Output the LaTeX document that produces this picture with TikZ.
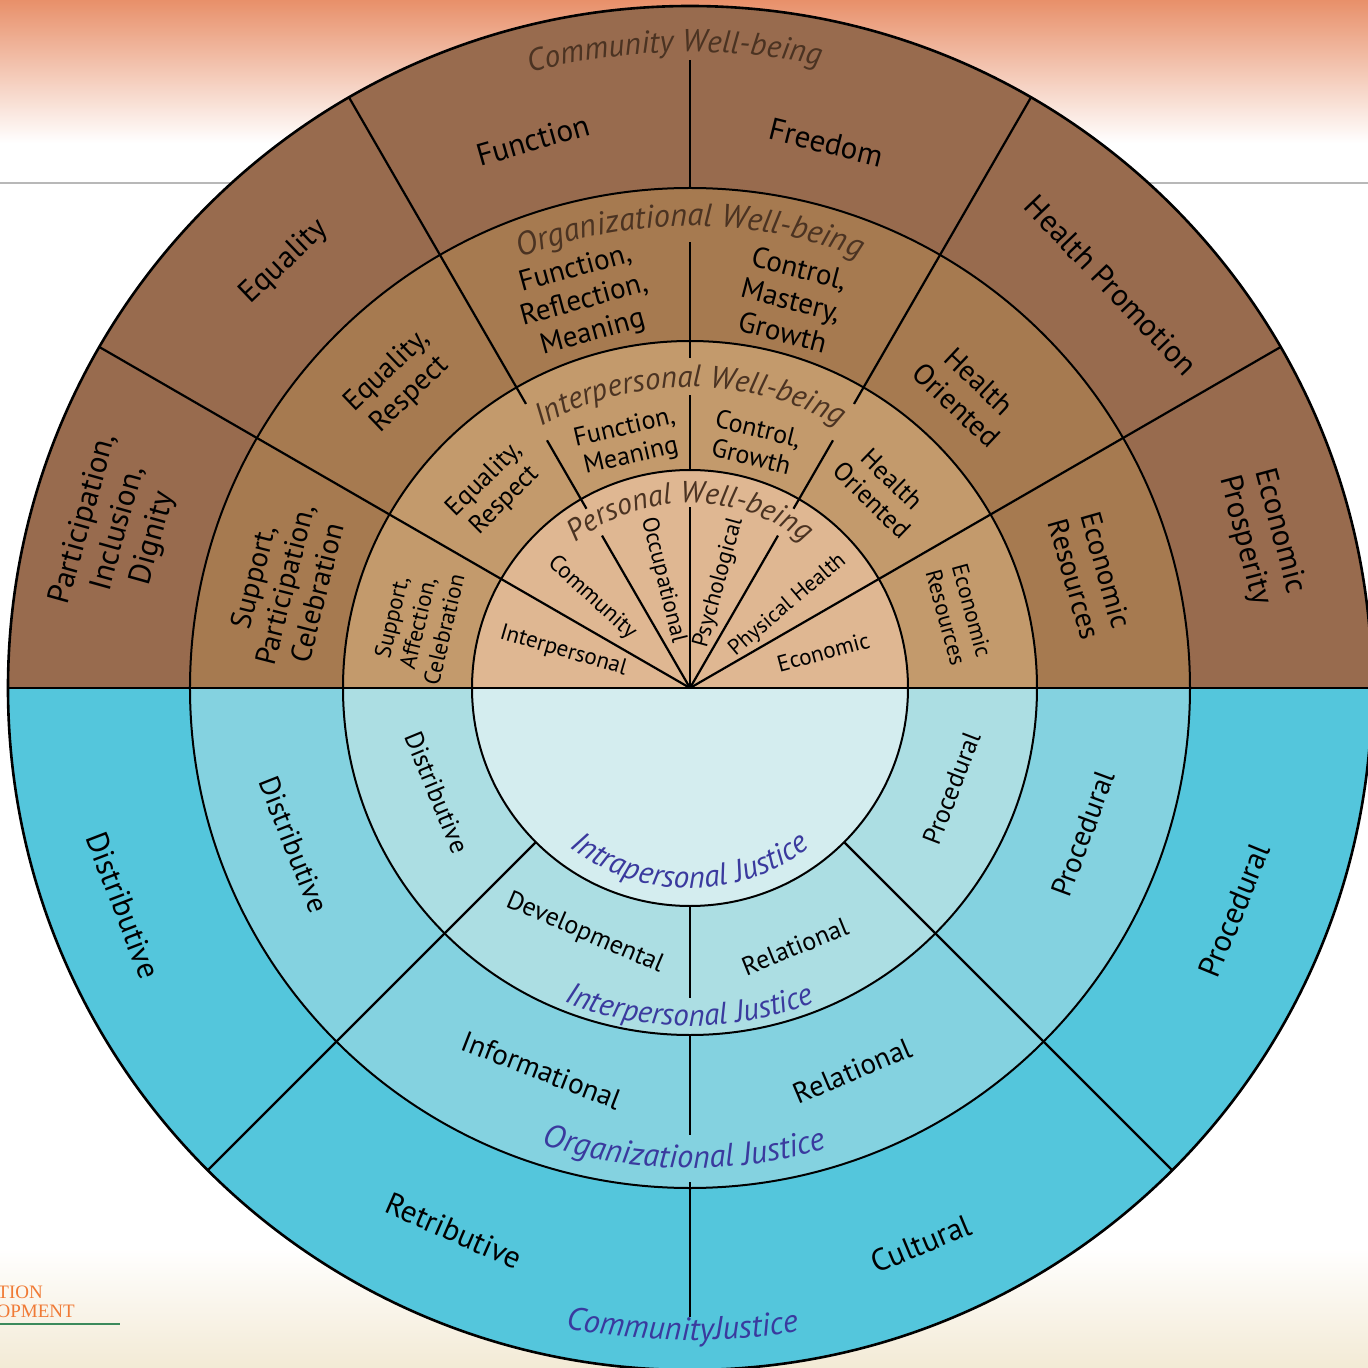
\documentclass[tikz,border=0pt]{standalone}
\usepackage{fontspec}
\setmainfont{PT Sans}
\newfontfamily\logofont{Liberation Serif}
\usetikzlibrary{decorations.text}
\definecolor{bgorange}{HTML}{E8906A}
\definecolor{cream}{HTML}{F3EAD5}
\definecolor{brA}{HTML}{986B4E}
\definecolor{brB}{HTML}{A67A50}
\definecolor{brC}{HTML}{C39A6C}
\definecolor{brD}{HTML}{DFB792}
\definecolor{blA}{HTML}{54C6DC}
\definecolor{blB}{HTML}{84D2E0}
\definecolor{blC}{HTML}{ACDEE3}
\definecolor{blD}{HTML}{D4EDEF}
\definecolor{ttlbrown}{HTML}{4B3322}
\definecolor{ttlblue}{HTML}{3A3A9E}
\definecolor{logoorange}{HTML}{F07A35}
\definecolor{logogreen}{HTML}{3C8A5C}
\def\ttlsz{30}
\newcommand\mkTtlBrown{\fontsize{\ttlsz}{\ttlsz}\selectfont\itshape\color{ttlbrown}}
\newcommand\mkTtlBlue{\fontsize{\ttlsz}{\ttlsz}\selectfont\itshape\color{ttlblue}}
\begin{document}
\begin{tikzpicture}[x=1pt,y=1pt,
  lbl/.style={inner sep=0pt, align=center, text=black},
  fO/.style={font=\fontsize{31}{36}\selectfont},
  fRc/.style={font=\fontsize{29}{33}\selectfont},
  fRb/.style={font=\fontsize{26}{29}\selectfont},
  fRbs/.style={font=\fontsize{23}{27}\selectfont},
  fIn/.style={font=\fontsize{23}{26}\selectfont},
  ringline/.style={line width=2pt},
  spoke/.style={line width=2.2pt}]
\useasboundingbox (-690,-680) rectangle (678,688);
% background
\shade[top color=bgorange, bottom color=white] (-690,688) rectangle (678,545);
\fill[white] (-690,545) rectangle (678,-560);
\shade[top color=white, bottom color=cream] (-690,-560) rectangle (678,-680);
\draw[black!28, line width=1.2pt] (-690,505) -- (678,505);
\node[anchor=base east, text=logoorange, font=\logofont\fontsize{19}{20}\selectfont, inner sep=0pt] (logoA) at (-647,-610) {TION};
\node[anchor=base east, text=logoorange, font=\logofont\fontsize{19}{20}\selectfont, inner sep=0pt] (logoB) at (-615,-629) {OPMENT};
\draw[logogreen, line width=1.2pt] (-690,-636) -- (-570,-636);
% fills
\fill[brA] (682,0) arc[start angle=0,end angle=180,radius=682] -- cycle;
\fill[blA] (682,0) arc[start angle=0,end angle=-180,radius=682] -- cycle;
\fill[brB] (500,0) arc[start angle=0,end angle=180,radius=500] -- cycle;
\fill[blB] (500,0) arc[start angle=0,end angle=-180,radius=500] -- cycle;
\fill[brC] (347,0) arc[start angle=0,end angle=180,radius=347] -- cycle;
\fill[blC] (347,0) arc[start angle=0,end angle=-180,radius=347] -- cycle;
\fill[brD] (218,0) arc[start angle=0,end angle=180,radius=218] -- cycle;
\fill[blD] (218,0) arc[start angle=0,end angle=-180,radius=218] -- cycle;
% spokes
\foreach \a in {30,150} \draw[spoke] (0,0) -- (\a:682);
\foreach \a in {60,120} {
  \draw[spoke] (0,0) -- (\a:176);
  \draw[spoke] (\a:207) -- (\a:286);
  \draw[spoke] (\a:328) -- (\a:682);
}
\draw[spoke] (0,0) -- (90:181);
\draw[spoke] (90:218) -- (90:293);
\draw[spoke] (90:330) -- (90:446);
\draw[spoke] (90:500) -- (90:628);
\foreach \a in {225,315} \draw[spoke] (\a:218) -- (\a:682);
\draw[spoke] (270:218) -- (270:310);
\draw[spoke] (270:347) -- (270:447);
\draw[spoke] (270:494) -- (270:629);
% circles
\draw[ringline] (0,0) circle[radius=218];
\draw[ringline] (0,0) circle[radius=347];
\draw[ringline] (0,0) circle[radius=500];
\draw[line width=2.6pt] (0,0) circle[radius=682];
\draw[line width=2.6pt] (-682,0) -- (682,0);
% titles
\def\ttlsz{31.5}
\path[decorate, decoration={text along path, text align=center, text={|\mkTtlBrown|Community Well-being}}] (151.4:636) arc[start angle=151.4, end angle=31.4, radius=636];
\def\ttlsz{32.4}
\path[decorate, decoration={text along path, text align=center, text={|\mkTtlBrown|Organizational Well-being}}] (150:462) arc[start angle=150, end angle=30, radius=462];
\def\ttlsz{31}
\path[decorate, decoration={text along path, text align=center, text={|\mkTtlBrown|Interpersonal Well-being}}] (160:301) arc[start angle=160, end angle=20, radius=301];
\def\ttlsz{30.2}
\path[decorate, decoration={text along path, text align=center, text={|\mkTtlBrown|Personal Well-being}}] (170:185) arc[start angle=170, end angle=10, radius=185];
\def\ttlsz{31.2}
\path[decorate, decoration={text along path, text align=center, text={|\mkTtlBlue|Intrapersonal Justice}}] (190:200) arc[start angle=190, end angle=350, radius=200];
\def\ttlsz{31}
\path[decorate, decoration={text along path, text align=center, text={|\mkTtlBlue|Interpersonal Justice}}] (200:338) arc[start angle=200, end angle=340, radius=338];
\def\ttlsz{32.4}
\path[decorate, decoration={text along path, text align=center, text={|\mkTtlBlue|Organizational Justice}}] (209.3:480) arc[start angle=209.3, end angle=329.3, radius=480];
\def\ttlsz{32.4}
\path[decorate, decoration={text along path, text align=center, text={|\mkTtlBlue|CommunityJustice}}] (209.3:652) arc[start angle=209.3, end angle=329.3, radius=652];
% outer ring top
\node[lbl,fO,rotate=16] (oFunc) at (106:570) {Function};
\node[lbl,fO,rotate=-14] (oFree) at (76:562) {Freedom};
\node[lbl,fO,rotate=43.6] (oEq) at (133.6:588) {Equality};
\node[lbl,fO,rotate=-46.3] (oHP) at (43.7:583) {Health Promotion};
\node[lbl,fO,rotate=74.4] (oPID) at (164.4:593) {Participation,\\Inclusion,\\Dignity};
\node[lbl,fO,rotate=-75.1] (oEP) at (14.9:592) {Economic\\Prosperity};
% ring 3 top
\node[lbl,fRc,rotate=15.3] (cFRM) at (105.3:401) {Function,\\Reflection,\\Meaning};
\node[lbl,fRc,rotate=-14.6] (cCMG) at (75.4:401) {Control,\\Mastery,\\Growth};
\node[lbl,fRc,rotate=43.7] (cER) at (133.7:422) {Equality,\\Respect};
\node[lbl,fRc,rotate=-43.3] (cHO) at (46.7:405) {Health\\Oriented};
\node[lbl,fRc,rotate=75.7] (cSPC) at (165.7:418) {Support,\\Participation,\\Celebration};
\node[lbl,fRc,rotate=-74.2] (cEcR) at (15.8:416) {Economic\\Resources};
% ring 2 top
\node[lbl,fRb,rotate=13] (bFM) at (104.2:253) {Function,\\Meaning};
\node[lbl,fRb,rotate=-14] (bCG) at (75.2:254) {Control,\\Growth};
\node[lbl,fRb,rotate=44.6] (bER) at (134.6:278) {Equality,\\Respect};
\node[lbl,fRb,rotate=-44.1] (bHO) at (45.9:276) {Health\\Oriented};
\node[lbl,fRbs,rotate=76.6] (bSAC) at (166.6:280) {Support,\\Affection,\\Celebration};
\node[lbl,fRbs,rotate=-74.6] (bEcR) at (15.4:279) {Economic\\Resources};
% inner top
\node[lbl,fIn,rotate=-16.2] (aInt) at (163.8:132) {Interpersonal};
\node[lbl,fIn,rotate=-42.6] (aCom) at (137.4:133) {Community};
\node[lbl,fIn,rotate=-76] (aOcc) at (104:111) {Occupational};
\node[lbl,fIn,rotate=74.6] (aPsy) at (74.6:109) {Psychological};
\node[lbl,font=\fontsize{22}{25}\selectfont,rotate=40.3] (aPhy) at (40.3:128) {Physical Health};
\node[lbl,fIn,rotate=15.1] (aEco) at (15.1:138) {Economic};
% outer bottom
\node[lbl,fO,rotate=-69] (oDis) at (201:607) {Distributive};
\node[lbl,fO,rotate=-23.5] (oRet) at (246.5:592) {Retributive};
\node[lbl,fO,rotate=22.6] (oCul) at (292.6:602) {Cultural};
\node[lbl,fO,rotate=67.8] (oPro) at (337.8:588) {Procedural};
% ring 3 bottom
\node[lbl,fRc,rotate=-68.4] (cDis) at (201.6:426) {Distributive};
\node[lbl,fRc,rotate=-21.2] (cInf) at (248.8:410) {Informational};
\node[lbl,fRc,rotate=23] (cRel) at (293:416) {Relational};
\node[lbl,fRc,rotate=69.7] (cPro) at (339.7:419) {Procedural};
% ring 2 bottom
\node[lbl,fRb,rotate=-67.6] (bDis) at (202.4:274) {Distributive};
\node[lbl,fRb,rotate=-23.2] (bDev) at (246.8:267) {Developmental};
\node[lbl,fRb,rotate=22.1] (bRel) at (292.1:279) {Relational};
\node[lbl,fRb,rotate=69] (bPro) at (339:280) {Procedural};
\end{tikzpicture}
\end{document}
